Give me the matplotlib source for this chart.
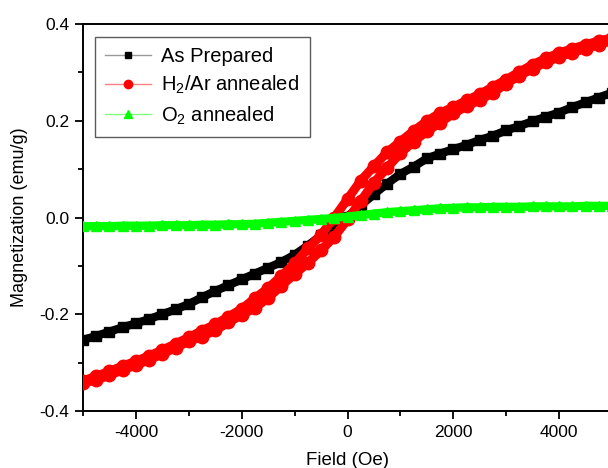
import numpy as np
import matplotlib
matplotlib.use("Agg")
import matplotlib.pyplot as plt
from matplotlib.lines import Line2D
from matplotlib.ticker import MultipleLocator

plt.rcParams['font.family'] = ['Liberation Sans', 'DejaVu Sans']
plt.rcParams['mathtext.fontset'] = 'custom'
plt.rcParams['mathtext.rm'] = 'Liberation Sans'
plt.rcParams['mathtext.it'] = 'Liberation Sans:italic'

# field grid (Oe), read every 250 Oe
field = np.arange(-5000, 5001, 250)

m_prepared = [-0.253, -0.245, -0.236, -0.227, -0.219, -0.210, -0.200, -0.190, -0.179,
              -0.165, -0.152, -0.140, -0.128, -0.116, -0.104, -0.092, -0.077, -0.058,
              -0.037, -0.017, 0.002, 0.025, 0.048, 0.070, 0.090, 0.105, 0.122, 0.132,
              0.141, 0.150, 0.160, 0.169, 0.180, 0.189, 0.199, 0.208, 0.217, 0.228,
              0.238, 0.248, 0.258]

# H2/Ar annealed: branch swept down (upper) and swept up (lower)
m_h2_down = [-0.338, -0.328, -0.318, -0.307, -0.297, -0.286, -0.274, -0.261, -0.248,
             -0.234, -0.221, -0.205, -0.189, -0.167, -0.146, -0.121, -0.095, -0.064,
             -0.036, 0.000, 0.038, 0.076, 0.106, 0.135, 0.157, 0.179, 0.199, 0.216,
             0.228, 0.242, 0.255, 0.270, 0.285, 0.301, 0.316, 0.329, 0.340, 0.349,
             0.357, 0.365, 0.371]
m_h2_up = [-0.342, -0.336, -0.326, -0.315, -0.305, -0.294, -0.282, -0.269, -0.256,
           -0.246, -0.233, -0.217, -0.201, -0.187, -0.166, -0.141, -0.117, -0.094,
           -0.068, -0.040, -0.004, 0.034, 0.072, 0.103, 0.133, 0.157, 0.178, 0.196,
           0.215, 0.230, 0.243, 0.258, 0.277, 0.293, 0.308, 0.321, 0.332, 0.341,
           0.349, 0.357, 0.366]

m_o2 = [-0.018, -0.018, -0.018, -0.017, -0.017, -0.017, -0.016, -0.016, -0.016,
        -0.015, -0.015, -0.014, -0.014, -0.013, -0.011, -0.009, -0.007, -0.005,
        -0.003, -0.001, 0.002, 0.005, 0.008, 0.011, 0.013, 0.015, 0.017, 0.019,
        0.020, 0.021, 0.021, 0.022, 0.022, 0.022, 0.023, 0.023, 0.023, 0.023,
        0.024, 0.024, 0.024]

labels = ['As Prepared', 'H$_2$/Ar annealed', 'O$_2$ annealed']

fig = plt.figure(figsize=(6.08, 4.68), dpi=100)
ax = fig.add_axes([83 / 608, 57 / 468, 529 / 608, 387 / 468])

# black
ax.plot(field, m_prepared, color='black', lw=6, solid_capstyle='round', zorder=2)
ax.plot(field, m_prepared, 's', color='black', ms=7, zorder=2)

# red loop
h_loop = np.concatenate([field[::-1], field])
m_loop = np.concatenate([m_h2_down[::-1], m_h2_up])
ax.plot(field, m_h2_down, color='red', lw=6.5, solid_capstyle='round', zorder=3)
ax.plot(field, m_h2_up, color='red', lw=6.5, solid_capstyle='round', zorder=3)
ax.plot(h_loop, m_loop, 'o', color='red', ms=9, mec='red', zorder=3)

# green
ax.plot(field, m_o2, color='#00ff00', lw=6, solid_capstyle='round', zorder=4)
ax.plot(field, m_o2, '^', color='#00ff00', ms=7, zorder=4)

ax.set_xlim(-5000, 5000)
ax.set_ylim(-0.4, 0.4)
ax.xaxis.set_minor_locator(MultipleLocator(1000))
ax.yaxis.set_minor_locator(MultipleLocator(0.1))
ax.set_xticks([-4000, -2000, 0, 2000, 4000])
ax.set_yticks([-0.4, -0.2, 0.0, 0.2, 0.4])
ax.set_yticklabels(['-0.4', '-0.2', '0.0', '0.2', '0.4'])
ax.set_xticklabels(['-4000', '-2000', '0', '2000', '4000'])
ax.tick_params(which='major', direction='out', length=6, width=1.3, labelsize=12.5, pad=4)
ax.tick_params(which='minor', direction='out', length=3.5, width=1.3)
ax.tick_params(top=False, right=False)
for s in ax.spines.values():
    s.set_linewidth(1.4)

ax.set_xlabel('Field (Oe)', fontsize=13.5, labelpad=9)
ax.set_ylabel('Magnetization (emu/g)', fontsize=13, labelpad=8)

handles = [
    Line2D([], [], color='#999999', lw=1, marker='s', mfc='black', mec='black', ms=5),
    Line2D([], [], color='#ff8080', lw=1, marker='o', mfc='red', mec='red', ms=6),
    Line2D([], [], color='#80ff80', lw=1, marker='^', mfc='#00ff00', mec='#00ff00', ms=6),
]
leg = ax.legend(handles, labels, loc='upper left', bbox_to_anchor=(12 / 529, 1 - 13 / 387),
                fontsize=14.5, frameon=True, fancybox=False, handlelength=2.3,
                handletextpad=0.5, borderpad=0.5, labelspacing=0.4, borderaxespad=0)
leg.get_frame().set_edgecolor('#333333')
leg.get_frame().set_linewidth(1.0)

fig.savefig('out.png', dpi=100)
